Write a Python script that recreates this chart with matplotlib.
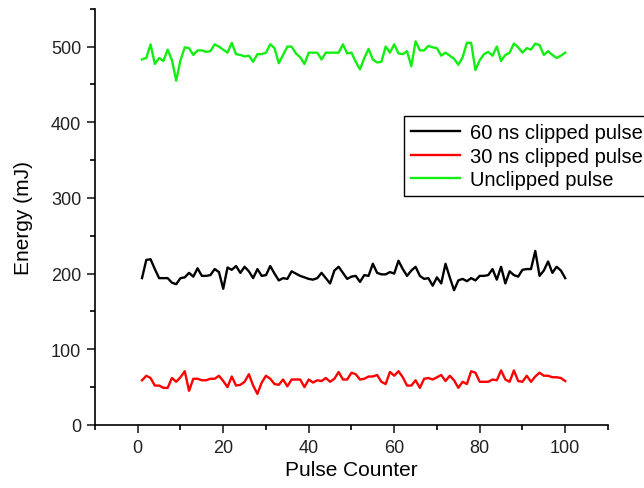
import numpy as np
import matplotlib
matplotlib.use("Agg")
import matplotlib.pyplot as plt
from matplotlib.ticker import MultipleLocator

plt.rcParams['font.family'] = ['Liberation Sans', 'DejaVu Sans']

pulse = np.arange(1, 101)

# 60 ns clipped pulse
e60 = [194, 218, 219, 206, 194, 194, 194, 188, 186, 194,
       195, 201, 196, 207, 197, 197, 198, 206, 202, 180,
       208, 205, 210, 201, 209, 203, 194, 206, 197, 198,
       210, 200, 191, 194, 193, 203, 200, 197, 195, 193,
       192, 194, 201, 194, 187, 204, 209, 201, 193, 196,
       197, 189, 198, 197, 213, 201, 199, 199, 202, 200,
       217, 206, 197, 204, 209, 197, 193, 194, 184, 195,
       187, 213, 195, 178, 191, 193, 190, 194, 191, 197,
       197, 198, 206, 192, 209, 187, 203, 198, 196, 205,
       206, 206, 230, 197, 204, 216, 201, 209, 204, 194]

# 30 ns clipped pulse
e30 = [59, 65, 62, 52, 52, 49, 49, 62, 57, 63,
       71, 45, 61, 61, 59, 59, 61, 61, 65, 58,
       50, 64, 52, 53, 57, 67, 52, 41, 56, 65,
       61, 54, 53, 60, 51, 60, 60, 60, 50, 60,
       56, 59, 58, 62, 57, 61, 70, 60, 60, 69,
       67, 60, 61, 64, 64, 66, 57, 54, 70, 65,
       71, 63, 52, 52, 59, 49, 61, 62, 60, 63,
       66, 58, 65, 59, 49, 57, 54, 71, 69, 57,
       57, 57, 60, 59, 72, 60, 57, 72, 58, 57,
       65, 57, 64, 69, 65, 65, 63, 63, 62, 58]

# Unclipped pulse
e_unc = [483, 485, 503, 477, 485, 481, 496, 482, 455, 482,
         499, 498, 489, 495, 495, 493, 494, 503, 500, 496,
         492, 505, 490, 489, 487, 488, 480, 490, 490, 492,
         503, 498, 478, 489, 500, 500, 491, 486, 477, 492,
         492, 492, 483, 492, 492, 492, 492, 503, 491, 492,
         480, 470, 485, 497, 483, 479, 480, 500, 492, 503,
         491, 490, 494, 474, 507, 495, 495, 501, 499, 498,
         488, 492, 488, 484, 476, 486, 505, 505, 469, 482,
         490, 493, 488, 500, 481, 489, 492, 504, 499, 492,
         498, 496, 504, 502, 489, 494, 489, 485, 488, 492]

fig = plt.figure(figsize=(6.44, 4.89), dpi=100)
ax = fig.add_axes([0.1475, 0.129, 0.7965, 0.851])

ax.plot(pulse, e60, color='black', lw=1.7, label='60 ns clipped pulse')
ax.plot(pulse, e30, color='#ff0000', lw=1.7, label='30 ns clipped pulse')
ax.plot(pulse, e_unc, color='#11ee11', lw=1.7, label='Unclipped pulse')

ax.set_xlim(-10, 110)
ax.set_ylim(0, 550)
ax.xaxis.set_major_locator(MultipleLocator(20))
ax.xaxis.set_minor_locator(MultipleLocator(10))
ax.yaxis.set_major_locator(MultipleLocator(100))
ax.yaxis.set_minor_locator(MultipleLocator(50))
ax.set_xticks([0, 20, 40, 60, 80, 100])
ax.set_yticks([0, 100, 200, 300, 400, 500])

ax.spines['top'].set_visible(False)
ax.spines['right'].set_visible(False)
for s in ['left', 'bottom']:
    ax.spines[s].set_linewidth(1.2)
ax.tick_params(which='major', direction='out', length=6, width=1.2,
               labelsize=13, colors='#222222', pad=4)
ax.tick_params(which='minor', direction='out', length=3.5, width=1.2)

ax.set_xlabel('Pulse Counter', fontsize=15, labelpad=3)
ax.set_ylabel('Energy (mJ)', fontsize=15, labelpad=13)

leg = ax.legend(loc='upper left', bbox_to_anchor=(0.603, 0.742),
                fontsize=14.5, fancybox=False, framealpha=1,
                edgecolor='black', borderpad=0.35, labelspacing=0.22,
                handlelength=2.4, handletextpad=0.5, borderaxespad=0)
leg.get_frame().set_linewidth(1.0)

fig.savefig('out.png', dpi=100)
